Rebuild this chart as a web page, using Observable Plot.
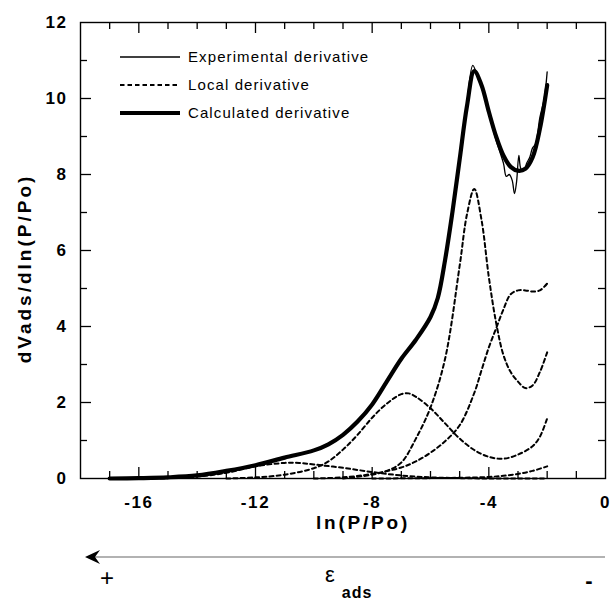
<!DOCTYPE html>
<html><head><meta charset="utf-8">
<script src="https://cdn.jsdelivr.net/npm/d3@7"></script>
<script src="https://cdn.jsdelivr.net/npm/@observablehq/plot@0.6"></script>
<style>
body{margin:0;background:#fff;overflow:hidden;}
#chart svg{display:block;}
</style></head><body><div id="chart"></div>
<script>
// ---- data ----
const expX = [-17,-16,-15,-14,-13,-12,-11,-10,-9.5,-9,-8.5,-8,-7.5,-7,-6.5,-6,-5.75,-5.5,-5.25,-5,-4.75,-4.55,-4.4,-4.25,-4,-3.75,-3.5,-3.4,-3.3,-3.2,-3.12,-3.05,-2.97,-2.9,-2.8,-2.7,-2.6,-2.5,-2.4,-2.25,-2.1,-2];
const expY = [0,0.01,0.03,0.08,0.2,0.35,0.55,0.74,0.9,1.15,1.5,1.95,2.55,3.15,3.65,4.25,4.75,5.75,7.0,8.4,9.9,10.87,10.6,10.3,9.6,8.9,8.3,7.95,8.0,7.85,7.5,7.8,8.5,8.15,8.1,8.3,8.45,8.7,8.8,9.5,10.0,10.7];

const calcX = [-17,-16,-15,-14,-13,-12,-11,-10,-9.5,-9,-8.5,-8,-7.5,-7,-6.5,-6,-5.75,-5.5,-5.25,-5,-4.75,-4.5,-4.25,-4,-3.75,-3.5,-3.25,-3,-2.75,-2.5,-2.25,-2];
const calcY = [0,0.01,0.03,0.08,0.2,0.35,0.55,0.74,0.9,1.15,1.5,1.95,2.55,3.15,3.65,4.25,4.75,5.75,7.0,8.4,9.8,10.72,10.35,9.65,9.0,8.5,8.2,8.1,8.15,8.45,9.2,10.35];

const loc1X = [-16,-15,-14,-13,-12,-11,-10.5,-10,-9,-8,-7,-6,-5,-4,-3,-2];
const loc1Y = [0,0.01,0.05,0.15,0.32,0.41,0.41,0.37,0.28,0.17,0.08,0.03,0.01,0,0,0];

const loc2X = [-13,-12,-11,-10,-9.5,-9,-8.5,-8,-7.5,-7,-6.75,-6.5,-6,-5.5,-5,-4.5,-4,-3.5,-3,-2.5,-2.25,-2];
const loc2Y = [0,0.03,0.1,0.27,0.45,0.76,1.15,1.6,1.97,2.22,2.24,2.15,1.85,1.45,1.05,0.75,0.57,0.52,0.63,0.85,1.1,1.58];

const loc3X = [-9,-8,-7.5,-7,-6.5,-6,-5.5,-5,-4.75,-4.5,-4.25,-4,-3.75,-3.5,-3.25,-3,-2.75,-2.5,-2.25,-2];
const loc3Y = [0,0.1,0.2,0.42,1.05,1.87,3.15,5.6,6.95,7.62,6.8,5.3,4.1,3.25,2.8,2.55,2.38,2.45,2.8,3.32];

const loc4X = [-10,-9,-8,-7,-6.5,-6,-5.5,-5,-4.5,-4.25,-4,-3.75,-3.5,-3.25,-3,-2.75,-2.5,-2.25,-2];
const loc4Y = [0,0.03,0.12,0.29,0.45,0.68,0.98,1.4,2.25,2.85,3.45,3.95,4.45,4.85,4.95,4.95,4.92,4.95,5.13];

const loc5X = [-8,-6,-5,-4,-3.5,-3,-2.5,-2];
const loc5Y = [0,0.01,0.02,0.04,0.07,0.12,0.2,0.32];

const xDomain = [-18, 0];
const yDomain = [0, 12];
const xTickLabels = [-16,-12,-8,-4,0];
const xMajorTicks = [-16,-12,-8,-4];
const xMinorTicks = [-17,-15,-14,-13,-11,-10,-9,-7,-6,-5,-3,-2,-1];
const yTickLabels = [0,2,4,6,8,10,12];
const yMajorTicks = [2,4,6,8,10];
const yMinorTicks = [1,3,5,7,9,11];

const legendLabels = ["Experimental derivative","Local derivative","Calculated derivative"];
const xTitle = "ln(P/Po)";
const yTitle = "dVads/dln(P/Po)";

// ---- build tables ----
const rows = (xs, ys, s) => xs.map((x, i) => ({x, y: ys[i], s}));
const expData = rows(expX, expY, "exp");
const calcData = rows(calcX, calcY, "calc");
const localData = [
  ...rows(loc1X, loc1Y, "l1"), ...rows(loc2X, loc2Y, "l2"), ...rows(loc3X, loc3Y, "l3"),
  ...rows(loc4X, loc4Y, "l4"), ...rows(loc5X, loc5Y, "l5")
];

// ---- layout ----
const W = 610, H = 602, mL = 80, mR = 5, mT = 22, mB = 124;
const innerW = W - mL - mR, innerH = H - mT - mB;
const FONT = "'Liberation Sans', Arial, Helvetica, sans-serif";
const MAJ = 11, MIN = 7;   // tick lengths in px
const TK = {stroke: "black", strokeWidth: 1.3};

function annotations() {
  const g = d3.create("svg:g").attr("font-family", FONT).attr("text-anchor", "start");
  // legend
  const lx0 = mL + 40, lx1 = mL + 100, tx = mL + 108;
  const ly = [mT + 35, mT + 63, mT + 91];
  const styles = [
    {w: 1.3, dash: null},
    {w: 2, dash: "4.5,3"},
    {w: 4.2, dash: null}
  ];
  legendLabels.forEach((lab, i) => {
    g.append("line").attr("x1", lx0).attr("x2", lx1).attr("y1", ly[i]).attr("y2", ly[i])
      .attr("stroke", "black").attr("stroke-width", styles[i].w)
      .attr("stroke-dasharray", styles[i].dash);
    g.append("text").attr("x", tx).attr("y", ly[i]).attr("dy", "0.35em")
      .attr("font-size", 15).attr("letter-spacing", "1.1px").attr("fill", "black").text(lab);
  });
  // energy arrow below the axis
  const ay = H - mB + 79;
  g.append("line").attr("x1", mL + 10).attr("x2", W - mR).attr("y1", ay).attr("y2", ay)
    .attr("stroke", "#666").attr("stroke-width", 1.2);
  g.append("path")
    .attr("d", `M${mL + 5},${ay} L${mL + 20},${ay - 7} L${mL + 15},${ay} L${mL + 20},${ay + 7} Z`)
    .attr("fill", "black");
  g.append("text").attr("x", mL + 27).attr("y", ay + 21).attr("dy", "0.35em")
    .attr("text-anchor", "middle").attr("font-size", 24).attr("font-weight", 300).text("+");
  g.append("text").attr("x", W - mR - 16).attr("y", ay + 23).attr("dy", "0.35em")
    .attr("text-anchor", "middle").attr("font-size", 22).attr("font-weight", "bold").text("-");
  const eps = g.append("text").attr("x", mL + 245).attr("y", ay + 25).attr("fill", "black");
  eps.append("tspan").attr("font-size", 22).text("ε");
  eps.append("tspan").attr("font-size", 16).attr("font-weight", "bold").attr("letter-spacing", "1px")
    .attr("dx", 7).attr("dy", 16).text("ads");
  return g.node();
}

const chart = Plot.plot({
  width: W, height: H,
  marginLeft: mL, marginRight: mR, marginTop: mT, marginBottom: mB,
  style: {fontFamily: FONT, background: "white", color: "black"},
  x: {domain: xDomain, axis: null},
  y: {domain: yDomain, axis: null},
  marks: [
    // curves
    Plot.line(localData, {x: "x", y: "y", z: "s", curve: "catmull-rom", stroke: "black",
      strokeWidth: 2, strokeDasharray: "4,3.2"}),
    Plot.line(calcData, {x: "x", y: "y", curve: "catmull-rom", stroke: "black", strokeWidth: 4.2}),
    Plot.line(expData, {x: "x", y: "y", curve: "catmull-rom", stroke: "black", strokeWidth: 1.3}),
    // frame and inward ticks on all four sides
    Plot.frame({stroke: "black", strokeWidth: 1.4}),
    Plot.tickX(xMajorTicks, {x: d => d, insetTop: innerH - MAJ, ...TK}),
    Plot.tickX(xMinorTicks, {x: d => d, insetTop: innerH - MIN, ...TK}),
    Plot.tickX(xMajorTicks, {x: d => d, insetBottom: innerH - MAJ, ...TK}),
    Plot.tickX(xMinorTicks, {x: d => d, insetBottom: innerH - MIN, ...TK}),
    Plot.tickY(yMajorTicks, {y: d => d, insetRight: innerW - MAJ, ...TK}),
    Plot.tickY(yMinorTicks, {y: d => d, insetRight: innerW - MIN, ...TK}),
    Plot.tickY(yMajorTicks, {y: d => d, insetLeft: innerW - MAJ, ...TK}),
    Plot.tickY(yMinorTicks, {y: d => d, insetLeft: innerW - MIN, ...TK}),
    // tick labels
    Plot.text(xTickLabels, {x: d => d, text: d => String(d), frameAnchor: "bottom", dy: 24,
      textAnchor: "middle", lineAnchor: "middle", fontSize: 17, fontWeight: "bold", fill: "black"}),
    Plot.text(yTickLabels, {y: d => d, text: d => String(d), frameAnchor: "left", dx: -13,
      textAnchor: "end", lineAnchor: "middle", fontSize: 17, fontWeight: "bold", fill: "black"}),
    // axis titles
    Plot.text([xTitle], {text: d => d, frameAnchor: "bottom", dx: 20, dy: 44, textAnchor: "middle",
      lineAnchor: "middle", fontSize: 19, fontWeight: "bold", fill: "black"}),
    Plot.text([yTitle], {text: d => d, frameAnchor: "left", dx: -56, dy: 18, rotate: -90,
      textAnchor: "middle", lineAnchor: "middle", fontSize: 19, fontWeight: "bold", fill: "black"}),
    annotations
  ]
});
document.getElementById("chart").appendChild(chart);

// letter spacing of the scanned-looking labels
const sel = d3.select(chart).selectAll("text");
const tickStrings = [...xTickLabels, ...yTickLabels].map(String);
sel.filter(function() { return tickStrings.includes(this.textContent); }).attr("letter-spacing", "1.6px");
sel.filter(function() { return this.textContent === xTitle; }).attr("letter-spacing", "2.8px");
sel.filter(function() { return this.textContent === yTitle; }).attr("letter-spacing", "3px");
</script>
</body></html>
